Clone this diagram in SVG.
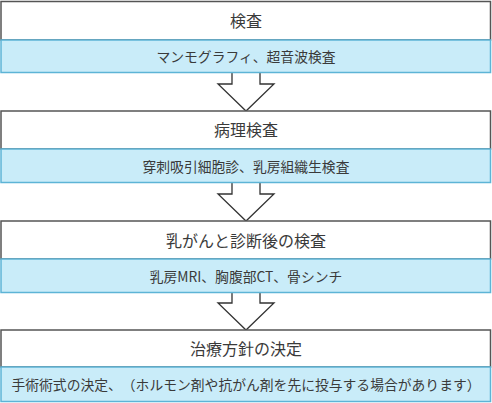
<svg xmlns="http://www.w3.org/2000/svg" width="492" height="403" viewBox="0 0 492 403">
<defs>
<style>
.hd{fill:#ffffff;stroke:#555555;stroke-width:1.5}
.sb{fill:#c9ecf9;stroke:#5db4d6;stroke-width:1.5}
.ar{fill:#ffffff;stroke:#333333;stroke-width:1.3;stroke-linejoin:miter}
text{text-spacing-trim:space-all}
.t1{font-family:"Noto Sans CJK JP","Noto Sans",sans-serif;font-size:16px;fill:#3a3a3a;text-anchor:middle;dominant-baseline:central}
.t2{font-family:"Noto Sans CJK JP","Noto Sans",sans-serif;font-size:13.8px;fill:#3a3a3a;text-anchor:middle;dominant-baseline:central}
</style>
</defs>
<rect width="492" height="403" fill="#ffffff"/>
<g id="connectors">
<path class="ar" d="M232,72 V84 H218 L246,111 L274,84 H260 V72"/>
<path class="ar" d="M232,183 V194 H218 L246,221 L274,194 H260 V183"/>
<path class="ar" d="M232,293 V303 H218 L246,330 L274,303 H260 V293"/>
</g>
<g id="node1">
<rect class="hd" x="1" y="1.5" width="489.5" height="38.5"/>
<rect class="sb" x="1" y="40" width="489.5" height="32.5"/>
<text class="t1" x="246" y="20">検査</text>
<text class="t2" x="246" y="56">マンモグラフィ、超音波検査</text>
</g>
<g id="node2">
<rect class="hd" x="1" y="111" width="489.5" height="38"/>
<rect class="sb" x="1" y="149" width="489.5" height="33.5"/>
<text class="t1" x="246" y="129">病理検査</text>
<text class="t2" x="246" y="166">穿刺吸引細胞診、乳房組織生検査</text>
</g>
<g id="node3">
<rect class="hd" x="1" y="221" width="489.5" height="38"/>
<rect class="sb" x="1" y="259" width="489.5" height="33.5"/>
<text class="t1" x="246" y="240">乳がんと診断後の検査</text>
<text class="t2" x="246" y="276">乳房MRI、胸腹部CT、骨シンチ</text>
</g>
<g id="node4">
<rect class="hd" x="1" y="330" width="489.5" height="37"/>
<rect class="sb" x="1" y="367" width="489.5" height="34.5"/>
<text class="t1" x="246" y="348">治療方針の決定</text>
<text class="t2" x="246" y="384">手術術式の決定、（ホルモン剤や抗がん剤を先に投与する場合があります）</text>
</g>
</svg>
